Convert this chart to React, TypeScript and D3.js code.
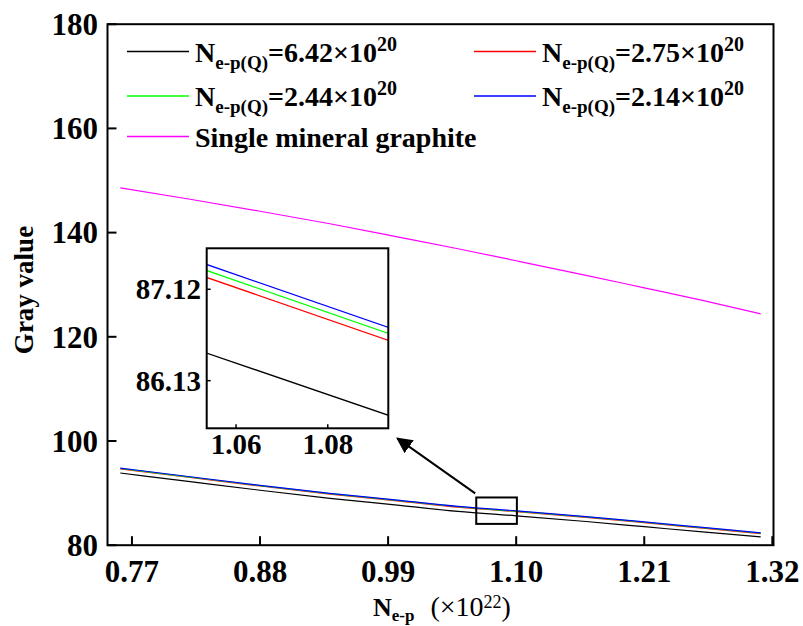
import React from 'react';
import * as d3 from 'd3';

// N_e-p (x10^22)
const nep = [0.76, 0.82, 0.88, 0.94, 1.0, 1.05, 1.1, 1.16, 1.21, 1.26, 1.31];

// gray value per series
const grayQ642 = [93.86, 92.2, 90.55, 89.0, 87.65, 86.49, 85.64, 84.55, 83.55, 82.55, 81.6];
const grayQ275 = [94.66, 93.0, 91.36, 89.82, 88.47, 87.31, 86.45, 85.35, 84.33, 83.28, 82.24];
const grayQ244 = [94.74, 93.08, 91.44, 89.9, 88.55, 87.385, 86.525, 85.43, 84.41, 83.36, 82.31];
const grayQ214 = [94.8, 93.14, 91.5, 89.96, 88.61, 87.45, 86.59, 85.49, 84.47, 83.42, 82.37];
const graySingle = [148.6, 146.4, 144.1, 141.7, 139.1, 136.9, 134.6, 131.8, 129.4, 127.0, 124.4];

const xTicks = [0.77, 0.88, 0.99, 1.1, 1.21, 1.32];
const yTicks = [80, 100, 120, 140, 160, 180];
const insetXTicks = [1.06, 1.08];
const insetYTicks = [86.13, 87.12];

const FONT = "'Liberation Serif', 'Times New Roman', serif";

const series = [
  { key: 'q642', conc: '6.42', color: '#000000', values: grayQ642 },
  { key: 'q275', conc: '2.75', color: '#ff0000', values: grayQ275 },
  { key: 'q244', conc: '2.44', color: '#00ff00', values: grayQ244 },
  { key: 'q214', conc: '2.14', color: '#0000ff', values: grayQ214 },
];

// legend slots: [column, row]
const legendSlots: Record<string, [number, number]> = {
  q642: [0, 0],
  q275: [1, 0],
  q244: [0, 1],
  q214: [1, 1],
  single: [0, 2],
};

export default function App() {
  const width = 803;
  const height = 626;

  const x = d3.scaleLinear().domain([0.749, 1.321]).range([107.5, 773.5]);
  const y = d3.scaleLinear().domain([80, 180]).range([545.2, 24.2]);

  // inset (zoomed view)
  const ix = d3.scaleLinear().domain([1.0536, 1.0932]).range([206.7, 388.3]);
  const iy = d3.scaleLinear().domain([85.614, 87.564]).range([428.3, 248.3]);

  const mainLine = (vals: number[]) =>
    d3.line<number>().x((_, i) => x(nep[i])).y(d => y(d)).curve(d3.curveMonotoneX)(vals) ?? '';
  const insetLine = (vals: number[]) =>
    d3.line<number>().x((_, i) => ix(nep[i])).y(d => iy(d))(vals) ?? '';

  const [x0, x1] = x.range();
  const [y0, y1] = y.range();
  const [ix0, ix1] = ix.range();
  const [iy0, iy1] = iy.range();

  // zoom box and arrow in data coordinates
  const boxX = [1.0657, 1.1006];
  const boxY = [84.09, 89.16];
  const arrowFrom = { x: 1.0648, y: 89.96 };
  const arrowTo = { x: 0.998, y: 100.5 };

  const legendCol = [127, 474];
  const legendBase = [61.5, 106, 146.5];

  const legendItem = (key: string, color: string, content: React.ReactNode) => {
    const [c, r] = legendSlots[key];
    const lx = legendCol[c];
    const by = legendBase[r];
    return (
      <g key={'lg-' + key}>
        <line x1={lx} x2={lx + 62} y1={by - 10} y2={by - 10} stroke={color} strokeWidth={1.5} />
        <text x={lx + 68} y={by} fontSize={28} fontWeight="bold" fontFamily={FONT}>
          {content}
        </text>
      </g>
    );
  };

  return (
    <div style={{ position: 'absolute', left: 0, top: 0 }}>
      <svg width={width} height={height} style={{ display: 'block', background: '#fff' }}>
        <defs>
          <clipPath id="inset-clip">
            <rect x={ix0} y={iy1} width={ix1 - ix0} height={iy0 - iy1} />
          </clipPath>
          <marker id="arrow-head" viewBox="0 0 10 10" refX="9" refY="5" markerWidth="8" markerHeight="8" orient="auto">
            <path d="M0,0 L10,5 L0,10 z" fill="#000" />
          </marker>
        </defs>

        {/* data lines */}
        {series.map(s => (
          <path key={s.key} d={mainLine(s.values)} fill="none" stroke={s.color} strokeWidth={1.2} />
        ))}
        <path d={mainLine(graySingle)} fill="none" stroke="#ff00ff" strokeWidth={1.2} />

        {/* frame */}
        <rect x={x0} y={y1} width={x1 - x0} height={y0 - y1} fill="none" stroke="#000" strokeWidth={2} />

        {/* x ticks */}
        {xTicks.map(t => (
          <g key={'xt' + t}>
            <line x1={x(t)} x2={x(t)} y1={y0} y2={y0 - 9} stroke="#000" strokeWidth={2} />
            <text x={x(t)} y={582} textAnchor="middle" fontSize={31} fontWeight="bold" fontFamily={FONT}>
              {t.toFixed(2)}
            </text>
          </g>
        ))}

        {/* y ticks */}
        {yTicks.map(t => (
          <g key={'yt' + t}>
            <line x1={x0} x2={x0 + 9} y1={y(t)} y2={y(t)} stroke="#000" strokeWidth={2} />
            <text x={98} y={y(t)} dy="0.35em" textAnchor="end" fontSize={31} fontWeight="bold" fontFamily={FONT}>
              {t}
            </text>
          </g>
        ))}

        {/* axis titles */}
        <text transform="translate(33,290) rotate(-90)" textAnchor="middle" fontSize={27} fontWeight="bold" fontFamily={FONT}>
          Gray value
        </text>
        <text x={373} y={616} fontSize={26} fontFamily={FONT}>
          <tspan fontWeight="bold">N</tspan>
          <tspan fontWeight="bold" fontSize={17} dy={5}>e-p</tspan>
          <tspan fontSize={28} dy={-5} dx={16}>(×10</tspan>
          <tspan fontSize={18} dy={-8}>22</tspan>
          <tspan fontSize={28} dy={8}>)</tspan>
        </text>

        {/* legend */}
        {series.map(s =>
          legendItem(
            s.key,
            s.color,
            <>
              <tspan>N</tspan>
              <tspan fontSize={19} dy={7}>e-p(Q)</tspan>
              <tspan dy={-7}>={s.conc}×10</tspan>
              <tspan fontSize={20} dy={-11}>20</tspan>
            </>
          )
        )}
        {legendItem('single', '#ff00ff', <tspan>Single mineral graphite</tspan>)}

        {/* zoom box + arrow */}
        <rect
          x={x(boxX[0])}
          y={y(boxY[1])}
          width={x(boxX[1]) - x(boxX[0])}
          height={y(boxY[0]) - y(boxY[1])}
          fill="none"
          stroke="#000"
          strokeWidth={2}
        />
        <line
          x1={x(arrowFrom.x)}
          y1={y(arrowFrom.y)}
          x2={x(arrowTo.x)}
          y2={y(arrowTo.y)}
          stroke="#000"
          strokeWidth={2}
          markerEnd="url(#arrow-head)"
        />

        {/* inset */}
        <rect x={ix0} y={iy1} width={ix1 - ix0} height={iy0 - iy1} fill="#fff" />
        <g clipPath="url(#inset-clip)">
          {series.map(s => (
            <path key={'in-' + s.key} d={insetLine(s.values)} fill="none" stroke={s.color} strokeWidth={1.3} />
          ))}
        </g>
        <rect x={ix0} y={iy1} width={ix1 - ix0} height={iy0 - iy1} fill="none" stroke="#000" strokeWidth={2} />
        {insetXTicks.map(t => (
          <g key={'ixt' + t}>
            <line x1={ix(t)} x2={ix(t)} y1={iy0} y2={iy0 - 4} stroke="#000" strokeWidth={1.5} />
            <text x={ix(t)} y={454} textAnchor="middle" fontSize={29} fontWeight="bold" fontFamily={FONT}>
              {t.toFixed(2)}
            </text>
          </g>
        ))}
        {insetYTicks.map(t => (
          <g key={'iyt' + t}>
            <line x1={ix0} x2={ix0 + 4} y1={iy(t)} y2={iy(t)} stroke="#000" strokeWidth={1.5} />
            <text x={201} y={iy(t)} dy="0.35em" textAnchor="end" fontSize={29} fontWeight="bold" fontFamily={FONT}>
              {t.toFixed(2)}
            </text>
          </g>
        ))}
      </svg>
    </div>
  );
}
